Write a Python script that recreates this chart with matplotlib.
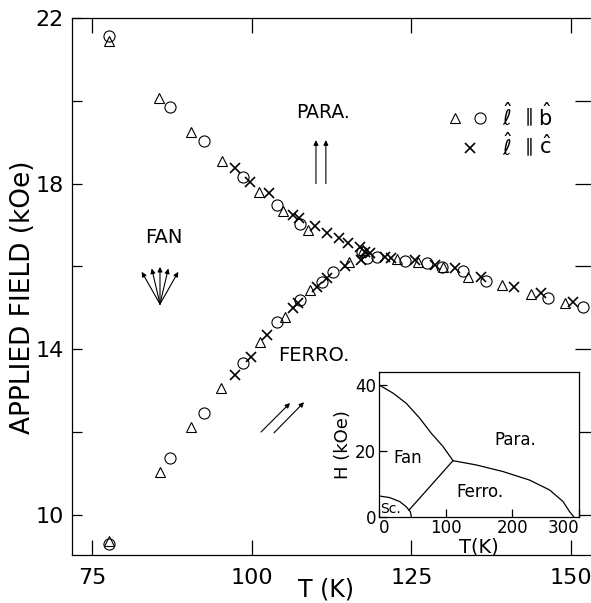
import matplotlib
matplotlib.use("Agg")
import matplotlib.pyplot as plt
import numpy as np

plt.rcParams['font.family'] = ['DejaVu Sans']
plt.rcParams['mathtext.fontset'] = 'dejavusans'

# ---------------- data ----------------
# l || b : triangles
tri_T = [77.7, 85.5, 90.5, 95.3, 101.1, 104.9, 108.8, 117.4, 122.7, 126.0, 129.9, 133.9, 139.2, 143.7, 149.0,
         77.7, 85.6, 90.5, 95.2, 101.3, 105.2, 109.1, 115.2]
tri_H = [21.44, 20.07, 19.25, 18.55, 17.80, 17.34, 16.88, 16.40, 16.18, 16.10, 15.98, 15.74, 15.55, 15.33, 15.12,
         9.36, 11.03, 12.12, 13.06, 14.17, 14.78, 15.43, 16.10]
# l || b : circles
circ_T = [77.7, 87.2, 92.5, 98.6, 104.0, 107.6, 117.3, 119.6, 124.0, 127.4, 129.8, 133.1, 136.6, 146.3, 151.8,
          77.7, 87.2, 92.5, 98.6, 104.0, 107.6, 111.0, 112.7, 118.0]
circ_H = [21.57, 19.85, 19.03, 18.16, 17.48, 17.02, 16.35, 16.23, 16.13, 16.08, 15.99, 15.89, 15.65, 15.24, 15.02,
          9.30, 11.37, 12.46, 13.67, 14.66, 15.20, 15.62, 15.86, 16.20]
# l || c : crosses
x_T = [97.4, 99.7, 102.7, 106.5, 107.4, 109.9, 111.8, 113.7, 115.1, 116.9, 117.7, 118.5,
       120.9, 121.8, 125.5, 128.7, 131.8, 135.9, 141.0, 145.3, 150.3,
       97.4, 99.9, 102.4, 106.5, 107.2, 110.2, 111.8, 114.6, 117.1]
x_H = [18.38, 18.04, 17.77, 17.24, 17.17, 16.98, 16.80, 16.69, 16.57, 16.47, 16.35, 16.32,
       16.23, 16.20, 16.15, 16.03, 15.96, 15.74, 15.50, 15.36, 15.14,
       13.38, 13.81, 14.34, 15.00, 15.12, 15.50, 15.72, 16.02, 16.15]

# inset phase diagram boundaries (T in K, H in kOe)
fan_para_T = [0, 21, 41, 61, 78.5, 96, 111]
fan_para_H = [40, 37.5, 34.4, 29.9, 25.3, 21.3, 17.0]
para_ferro_T = [111, 146, 186, 226, 256, 276, 286, 292]
para_ferro_H = [17.0, 15.7, 13.7, 11.1, 8.1, 4.6, 1.5, 0.0]
fan_ferro_T = [111, 45]
fan_ferro_H = [17.0, 2.0]
sc_T = [0, 16, 31, 41, 47, 48.5]
sc_H = [6.3, 5.8, 4.6, 3.0, 1.5, 0.0]

main_xticks = [75, 100, 125, 150]
main_yticks = [10, 14, 18, 22]
main_yminor = [12, 16, 20]
right_yticks = [10, 12, 14, 16, 18, 20]
inset_xticks = [0, 100, 200, 300]
inset_yticks = [0, 20, 40]

# ---------------- figure ----------------
W, H = 591, 603
fig = plt.figure(figsize=(W / 100, H / 100), dpi=100)
ax = fig.add_axes([72 / W, 1 - 555 / H, (592 - 72) / W, (555 - 18) / H])
ax.set_xlim(71.87, 153.25)
ax.set_ylim(9.03, 22.0)
ax.spines['right'].set_visible(False)
for s in ['left', 'bottom', 'top']:
    ax.spines[s].set_linewidth(0.9)

ax.set_xticks(main_xticks)
ax.set_xticklabels([str(v) for v in main_xticks])
ax.set_yticks(main_yticks)
ax.set_yticklabels([str(v) for v in main_yticks])
ax.set_yticks(main_yminor, minor=True)
ax.tick_params(axis='x', direction='in', top=True, length=11, width=0.9, labelsize=16, pad=9)
ax.tick_params(axis='y', which='both', direction='in', length=7, width=0.9, labelsize=16, pad=6)

axr = ax.twinx()
axr.set_ylim(ax.get_ylim())
axr.set_yticks(right_yticks)
axr.set_yticklabels([])
axr.tick_params(axis='y', direction='in', length=12, width=0.9)
for s in axr.spines.values():
    s.set_visible(False)

ax.plot(tri_T, tri_H, ls='none', marker='^', ms=6.5, mfc='white', mec='black', mew=0.8)
ax.plot(circ_T, circ_H, ls='none', marker='o', ms=8, mfc='none', mec='black', mew=0.8)
ax.plot(x_T, x_H, ls='none', marker='x', ms=7.5, mec='black', mew=1.2)

ax.set_xlabel('T (K)', fontsize=17)
ax.xaxis.set_label_coords((326 - 72) / (592 - 72), -22 / (555 - 18))
ax.set_ylabel('APPLIED FIELD (kOe)', fontsize=19)
ax.yaxis.set_label_coords(-36 / (592 - 72), 0.48)

# annotations
ax.text(111.15, 19.71, 'PARA.', fontsize=13.5, ha='center', va='center')
ax.text(86.3, 16.71, 'FAN', fontsize=14, ha='center', va='center')
ax.text(109.74, 13.86, 'FERRO.', fontsize=14, ha='center', va='center')

arr = dict(arrowstyle='-|>', lw=0.8, color='black', mutation_scale=7, shrinkA=0, shrinkB=0)
for xt in [110.05, 111.6]:
    ax.annotate('', xy=(xt, 19.05), xytext=(xt, 18.0), arrowprops=arr)
fan_tail = (85.64, 15.09)
for tip in [(82.78, 15.87), (84.35, 15.95), (85.64, 15.99), (86.94, 15.95), (88.5, 15.87)]:
    ax.annotate('', xy=tip, xytext=fan_tail, arrowprops=arr)
ax.annotate('', xy=(105.99, 12.70), xytext=(101.45, 12.00), arrowprops=arr)
ax.annotate('', xy=(108.18, 12.72), xytext=(103.48, 11.98), arrowprops=arr)

# legend-like key
ax.plot([131.8], [19.58], ls='none', marker='^', ms=6.5, mfc='white', mec='black', mew=0.8)
ax.plot([135.7], [19.58], ls='none', marker='o', ms=8, mfc='none', mec='black', mew=0.8)
ax.plot([134.1], [18.86], ls='none', marker='x', ms=7.5, mec='black', mew=1.2)
for yy, lab in [(19.62, r'$\hat{\mathrm{b}}$'), (18.90, r'$\hat{\mathrm{c}}$')]:
    ax.text(140.0, yy, r'$\hat{\ell}$', fontsize=15, ha='center', va='center')
    ax.text(143.1, yy - 0.02, r'$\parallel$', fontsize=13, ha='center', va='center')
    ax.text(145.9, yy, lab, fontsize=15, ha='center', va='center')

# ---------------- inset ----------------
axi = fig.add_axes([379 / W, 1 - 516.7 / H, 200 / W, 145 / H])
axi.set_xlim(0, 300)
axi.set_ylim(0, 44)
for s in axi.spines.values():
    s.set_linewidth(0.9)
axi.set_xticks(inset_xticks)
axi.set_xticklabels([str(v) for v in inset_xticks])
axi.set_yticks(inset_yticks)
axi.set_yticklabels([str(v) for v in inset_yticks])
axi.tick_params(direction='in', length=6, width=0.9, labelsize=12, pad=2)
xtl = axi.get_xticklabels()
xtl[0].set_horizontalalignment('left')
xtl[-1].set_horizontalalignment('right')
axi.plot(fan_para_T, fan_para_H, color='black', lw=0.9)
axi.plot(para_ferro_T, para_ferro_H, color='black', lw=0.9)
axi.plot(fan_ferro_T, fan_ferro_H, color='black', lw=0.9)
axi.plot(sc_T, sc_H, color='black', lw=0.9)
axi.text(43.5, 17.7, 'Fan', fontsize=12, ha='center', va='center')
axi.text(204, 23.3, 'Para.', fontsize=12, ha='center', va='center')
axi.text(152, 7.6, 'Ferro.', fontsize=12, ha='center', va='center')
axi.text(17, 2.4, 'Sc.', fontsize=10, ha='center', va='center')
axi.set_xlabel('T(K)', fontsize=14, labelpad=0)
axi.set_ylabel('H (kOe)', fontsize=13, labelpad=2)

fig.savefig('out.png', dpi=100, facecolor='white')
